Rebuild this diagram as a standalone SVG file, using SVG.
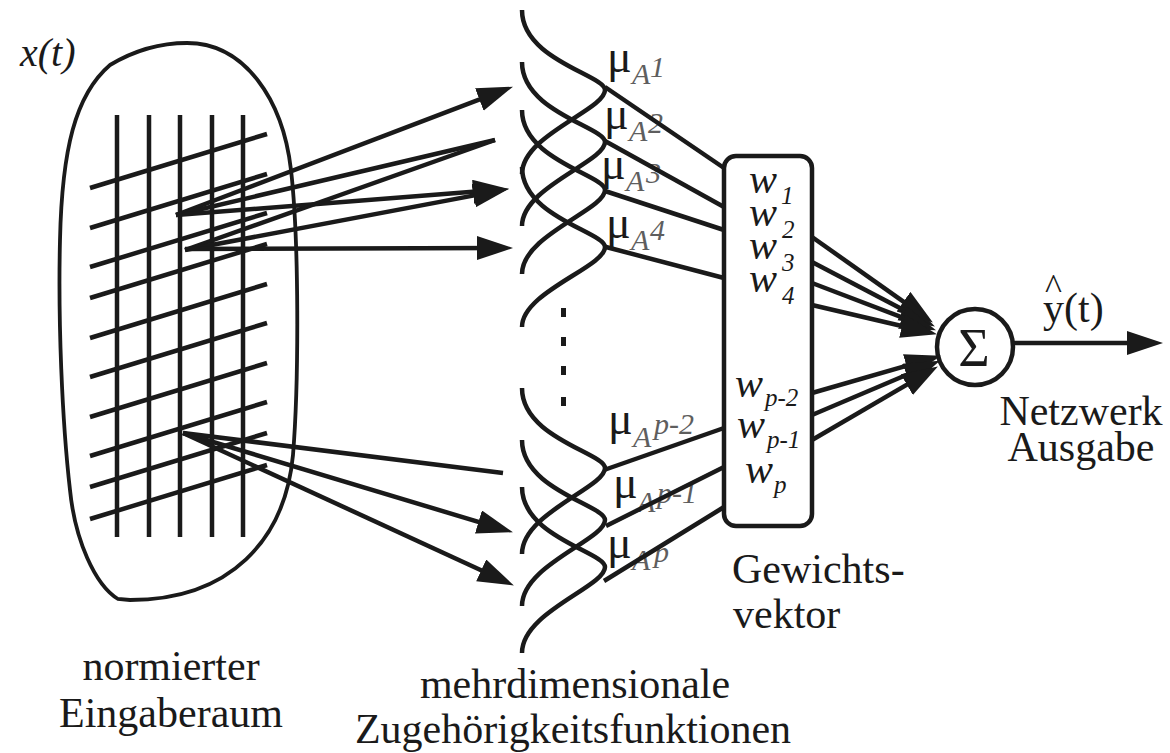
<svg xmlns="http://www.w3.org/2000/svg" width="1170" height="753" viewBox="0 0 1170 753">
<defs>
<style>
.ln{stroke:#1a1a1a;stroke-width:4.5;fill:none;stroke-linecap:butt}
.bl{stroke:#1a1a1a;stroke-width:3.8;fill:none}
.t{font-family:"Liberation Serif","Times New Roman",serif;fill:#1a1a1a}
.lab{font-size:42px}
.mu{font-size:46px}
.sub{font-size:30px;font-style:italic;fill:#5e5e5e}
.w{font-size:42px;font-style:italic}
.ws{font-size:25px;font-style:italic}
.ar{marker-end:url(#ah)}
</style>
<marker id="ah" markerUnits="userSpaceOnUse" markerWidth="40" markerHeight="26" refX="25" refY="12" orient="auto">
<path d="M0,0 L36,12 L0,24 Z" fill="#1a1a1a"/>
</marker>
</defs>
<rect width="1170" height="753" fill="#ffffff"/>

<g id="input-space">
<path class="bl" d="M187,43 C245,43 283,100 291,170 C299,240 299,380 293,455 C285,540 230,600 130,600 L118,599 C95,585 75,540 70,490 C62,420 58,320 60,240 C62,150 75,95 110,65 C135,50 160,43 187,43 Z"/>
<g class="ln">
<line x1="117" y1="115" x2="117" y2="537"/>
<line x1="149" y1="115" x2="149" y2="537"/>
<line x1="180" y1="115" x2="180" y2="537"/>
<line x1="212" y1="115" x2="212" y2="537"/>
<line x1="243" y1="115" x2="243" y2="537"/>
<line x1="90" y1="188" x2="267" y2="134"/>
<line x1="90" y1="228" x2="267" y2="174"/>
<line x1="90" y1="267" x2="267" y2="213"/>
<line x1="90" y1="298" x2="267" y2="244"/>
<line x1="90" y1="338" x2="267" y2="284"/>
<line x1="90" y1="377" x2="267" y2="323"/>
<line x1="90" y1="417" x2="267" y2="363"/>
<line x1="90" y1="456" x2="267" y2="402"/>
<line x1="90" y1="487" x2="267" y2="433"/>
<line x1="90" y1="519" x2="267" y2="465"/>
</g>
<text class="t" x="20" y="66" font-size="40" font-style="italic">x(t)</text>
<text class="t lab" x="171" y="680" text-anchor="middle">normierter</text>
<text class="t lab" x="171" y="727" text-anchor="middle">Eingaberaum</text>
</g>

<g id="membership-functions">
<g class="ln">
<path d="M522,10 C522,60 605,75 605,90 C605,110 522,135 522,174"/>
<path d="M522,62 C522,112 605,127 605,142 C605,162 522,187 522,226"/>
<path d="M522,110 C522,160 605,175 605,190 C605,210 522,235 522,274"/>
<path d="M522,167 C522,217 605,232 605,247 C605,267 522,292 522,327"/>
<path d="M522,388 C522,438 605,453 605,468 C605,488 522,513 522,554"/>
<path d="M522,440 C522,490 605,505 605,520 C605,540 522,565 522,606"/>
<path d="M522,487 C522,537 605,552 605,567 C605,587 522,612 522,653"/>
</g>
<g fill="#1a1a1a">
<rect x="561" y="308" width="5" height="9"/>
<rect x="561" y="337" width="5" height="9"/>
<rect x="561" y="366" width="5" height="9"/>
<rect x="561" y="397" width="5" height="9"/>
</g>
<g class="t">
<text class="mu" x="607" y="72">μ</text><text class="sub" x="632" y="84">A</text><text class="sub" x="650" y="77">1</text>
<text class="mu" x="604" y="129">μ</text><text class="sub" x="629" y="141">A</text><text class="sub" x="648" y="133">2</text>
<text class="mu" x="601" y="179">μ</text><text class="sub" x="626" y="191">A</text><text class="sub" x="646" y="183">3</text>
<text class="mu" x="606" y="238">μ</text><text class="sub" x="631" y="250">A</text><text class="sub" x="650" y="240">4</text>
<text class="mu" x="608" y="434">μ</text><text class="sub" x="633" y="447">A</text><text class="sub" x="654" y="434">p-2</text>
<text class="mu" x="613" y="498">μ</text><text class="sub" x="637" y="512">A</text><text class="sub" x="657" y="503">p-1</text>
<text class="mu" x="607" y="558">μ</text><text class="sub" x="632" y="570">A</text><text class="sub" x="654" y="562">p</text>
</g>
<text class="t lab" x="575" y="698" text-anchor="middle">mehrdimensionale</text>
<text class="t lab" x="573" y="743" text-anchor="middle">Zugehörigkeitsfunktionen</text>
</g>

<g id="weight-vector">
<rect x="724" y="156" width="88" height="370" rx="12" ry="12" class="ln"/>
<g class="t">
<text class="w" x="749" y="193">w</text><text class="ws" x="781" y="204">1</text>
<text class="w" x="749" y="226">w</text><text class="ws" x="782" y="238">2</text>
<text class="w" x="749" y="259">w</text><text class="ws" x="782" y="271">3</text>
<text class="w" x="749" y="292">w</text><text class="ws" x="782" y="304">4</text>
<text class="w" x="735" y="397">w</text><text class="ws" x="765" y="406">p-2</text>
<text class="w" x="737" y="438">w</text><text class="ws" x="767" y="448">p-1</text>
<text class="w" x="745" y="483">w</text><text class="ws" x="774" y="493">p</text>
</g>
<text class="t lab" x="732" y="583">Gewichts-</text>
<text class="t lab" x="733" y="628">vektor</text>
</g>

<g id="sum-node">
<circle cx="975" cy="347" r="38" class="ln"/>
<text class="t" x="974" y="366" font-size="54" text-anchor="middle">Σ</text>
<text class="t" x="1045" y="299" font-size="36">^</text>
<text class="t lab" x="1043" y="322">y(t)</text>
<text class="t lab" x="1081" y="425" text-anchor="middle">Netzwerk</text>
<text class="t lab" x="1081" y="461" text-anchor="middle">Ausgabe</text>
</g>

<g id="connectors" class="ln">
<line x1="176" y1="215" x2="502.7" y2="90.6" class="ar"/>
<line x1="176" y1="215" x2="495" y2="140"/>
<line x1="185" y1="250" x2="495" y2="140"/>
<line x1="176" y1="215" x2="498" y2="189.8" class="ar"/>
<line x1="185" y1="250" x2="498.2" y2="190.9" class="ar"/>
<line x1="185" y1="249" x2="502" y2="248" class="ar"/>
<line x1="183" y1="433" x2="503" y2="473"/>
<line x1="183" y1="433" x2="502.4" y2="529.1" class="ar"/>
<line x1="183" y1="433" x2="503.9" y2="580.8" class="ar"/>
<line x1="605" y1="87" x2="724" y2="168"/>
<line x1="605" y1="141" x2="724" y2="207"/>
<line x1="605" y1="191" x2="724" y2="230"/>
<line x1="606" y1="247" x2="724" y2="278"/>
<line x1="604" y1="470" x2="724" y2="428"/>
<line x1="606" y1="526" x2="724" y2="467"/>
<line x1="604" y1="581" x2="724" y2="507"/>
<line x1="812" y1="237" x2="923.9" y2="316.1" class="ar"/>
<line x1="812" y1="262" x2="925.2" y2="321.3" class="ar"/>
<line x1="812" y1="283" x2="925.7" y2="326.4" class="ar"/>
<line x1="812" y1="305" x2="926.3" y2="331.7" class="ar"/>
<line x1="812" y1="393" x2="930.4" y2="358.8" class="ar"/>
<line x1="812" y1="415" x2="929.8" y2="365" class="ar"/>
<line x1="812" y1="440" x2="928.4" y2="372.1" class="ar"/>
<line x1="1013" y1="343" x2="1152" y2="343" class="ar"/>
</g>
</svg>
